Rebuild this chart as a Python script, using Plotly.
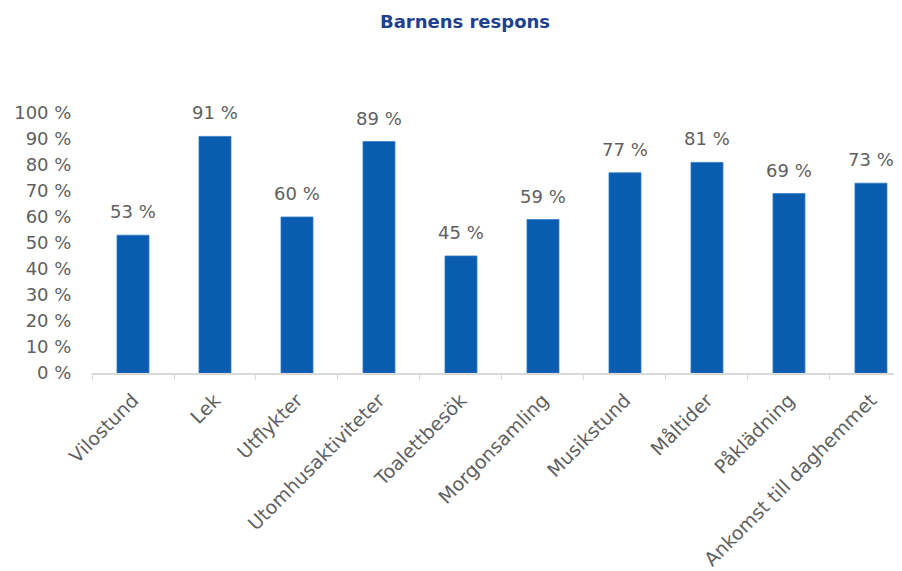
import plotly.graph_objects as go

categories = ["Vilostund", "Lek", "Utflykter", "Utomhusaktiviteter", "Toalettbesök",
              "Morgonsamling", "Musikstund", "Måltider", "Påklädning", "Ankomst till daghemmet"]
values = [53, 91, 60, 89, 45, 59, 77, 81, 69, 73]
y_ticks = [0, 10, 20, 30, 40, 50, 60, 70, 80, 90, 100]
y_tick_labels = [f"{v} %" for v in y_ticks]
value_labels = [f"{v} %" for v in values]

FONT = "DejaVu Sans, Arial"
GRAY = "#5F5F5F"

fig = go.Figure()
fig.add_trace(go.Bar(
    x=categories, y=values,
    marker=dict(color="#0A5CB0", line=dict(color="#2F7AC4", width=0.8)),
    width=0.39,
    cliponaxis=False,
    hoverinfo="skip",
))

for c, v, t in zip(categories, values, value_labels):
    fig.add_annotation(x=c, y=v, text=t, showarrow=False, yanchor="middle", yshift=23.5,
                       font=dict(family=FONT, size=18, color=GRAY))

fig.update_layout(
    width=902, height=571,
    margin=dict(l=84, r=0, t=105, b=206),
    paper_bgcolor="white", plot_bgcolor="white",
    showlegend=False,
    title=dict(text="<b>Barnens respons</b>", x=457/902, xanchor="center", y=1-14/571, yanchor="middle",
               font=dict(family=FONT, size=18, color="#1F3F8F")),
    xaxis=dict(
        type="category", range=[-0.5, 9.476], automargin=False,
        showline=True, linecolor="#D9D9D9", linewidth=1.5,
        ticks="outside", tickson="boundaries", ticklen=5, tickcolor="#D9D9D9",
        tickangle=-45, showgrid=False, ticklabelstandoff=7,
        tickfont=dict(family=FONT, size=19, color=GRAY),
    ),
    yaxis=dict(
        range=[0, 100], tickvals=y_ticks, ticktext=y_tick_labels, automargin=False,
        showgrid=False, zeroline=False, showline=False,
        ticks="outside", ticklen=16, tickcolor="rgba(0,0,0,0)",
        tickfont=dict(family=FONT, size=18, color=GRAY),
    ),
)

fig.write_html("out.html")
